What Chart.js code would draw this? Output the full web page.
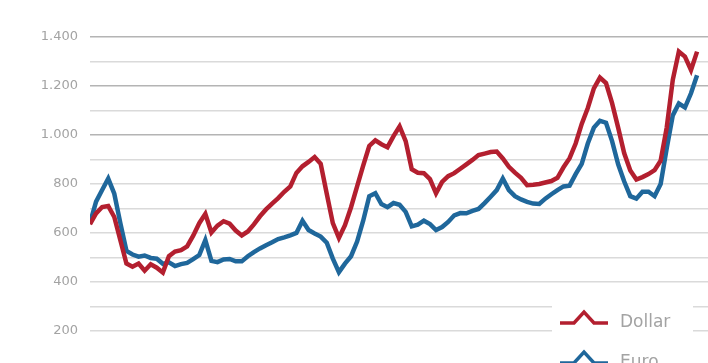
<!DOCTYPE html>
<html>
<head>
<meta charset="utf-8">
<script src="https://cdn.jsdelivr.net/npm/chart.js@4/dist/chart.umd.min.js"></script>
<style>
  html, body { margin: 0; padding: 0; background: #fff; }
  #wrap { width: 708px; height: 363px; }
</style>
</head>
<body>
<div id="wrap"><canvas id="myChart" width="708" height="363"></canvas></div>
<script>
// series values (one point per period)
const dollar = [
    636, 680, 706, 710, 665, 570, 475, 462, 475, 446,
    472, 458, 438, 505, 524, 530, 545, 589, 640, 678,
    602, 630, 648, 638, 610, 590, 606, 635, 668, 696,
    720, 742, 768, 790, 845, 872, 890, 910, 882, 760,
    640, 580, 632, 705, 790, 875, 955, 978, 962, 950,
    995, 1035, 975, 860, 846, 844, 820, 762, 808, 832,
    844, 862, 880, 898, 918, 924, 930, 932, 904, 870,
    846, 825, 795, 797, 800, 806, 812, 825, 868, 905,
    965, 1045, 1110, 1190, 1234, 1212, 1130, 1030, 925, 855,
    818, 828, 840, 856, 895, 1030, 1225, 1340, 1320, 1265,
    1340
];
const euro = [
    640, 728, 775, 822, 760, 640, 527, 512, 503, 508,
    498, 495, 474, 480, 465, 473, 478, 493, 510, 571,
    486, 481, 492, 494, 484, 484, 505, 522, 537, 550,
    562, 575, 582, 590, 600, 650, 612, 598, 585, 560,
    495, 440, 475, 505, 565, 650, 750, 762, 718, 705,
    722, 715, 686, 627, 634, 650, 636, 612, 624, 645,
    672, 681, 680, 690, 698, 722, 748, 775, 822, 775,
    750, 737, 727, 720, 718, 740, 758, 775, 790, 793,
    840, 882, 965, 1030, 1058, 1050, 975, 880, 810, 750,
    740, 768, 768, 750, 800, 945, 1080, 1128, 1112, 1170,
    1244
];
const seriesNames = ['Dollar', 'Euro'];
const seriesColors = ['#b31f2f', '#1f679b'];
const yTicks = [200, 300, 400, 500, 600, 700, 800, 900, 1000, 1100, 1200, 1300, 1400];

function toPoints(arr) {
    return arr.map((v, i) => ({ x: i, y: v }));
}

function fmt(v) {
    return String(v).replace(/\B(?=(\d{3})+(?!\d))/g, '.');
}

// little "peak" line icon used in the legend
function drawPeak(ctx, x, y, color) {
    ctx.save();
    ctx.strokeStyle = color;
    ctx.lineWidth = 3.5;
    ctx.lineJoin = 'miter';
    ctx.beginPath();
    ctx.moveTo(x, y);
    ctx.lineTo(x + 14, y);
    ctx.lineTo(x + 24, y - 11);
    ctx.lineTo(x + 34, y);
    ctx.lineTo(x + 48, y);
    ctx.stroke();
    ctx.restore();
}

const legendBox = {
    id: 'legendBox',
    afterDatasetsDraw(chart) {
        const ctx = chart.ctx;
        ctx.save();
        ctx.fillStyle = '#fff';
        ctx.fillRect(552, 300, 141, 63);
        ctx.font = '17px "DejaVu Sans"';
        ctx.fillStyle = '#a3a3a3';
        ctx.textBaseline = 'alphabetic';
        seriesNames.forEach((name, i) => {
            const y = 323 + i * 40;
            drawPeak(ctx, 560, y, seriesColors[i]);
            ctx.fillText(name, 620, y + 4);
        });
        ctx.restore();
    }
};

const config = {
    type: 'line',
    data: {
        datasets: [{
            label: seriesNames[0],
            data: toPoints(dollar),
            borderColor: seriesColors[0],
            borderWidth: 4.5,
            pointRadius: 0,
            tension: 0,
            fill: false
        }, {
            label: seriesNames[1],
            data: toPoints(euro),
            borderColor: seriesColors[1],
            borderWidth: 4.5,
            pointRadius: 0,
            tension: 0,
            fill: false
        }]
    },
    options: {
        responsive: false,
        animation: false,
        devicePixelRatio: 1,
        layout: { padding: 0 },
        plugins: {
            legend: { display: false },
            tooltip: { enabled: false }
        },
        scales: {
            x: {
                type: 'linear',
                min: 0,
                max: 101.8,
                display: false
            },
            y: {
                min: 150,
                max: 1470,
                afterBuildTicks: (scale) => {
                    scale.ticks = yTicks.map(v => ({ value: v }));
                },
                afterFit: (scale) => {
                    scale.width = 90;
                },
                border: { display: false },
                grid: {
                    drawTicks: false,
                    lineWidth: 1.5,
                    color: (c) => (c.tick && c.tick.value % 200 === 0 && c.tick.value >= 1000) ? '#b4b4b4' : '#dadada'
                },
                ticks: {
                    padding: 12,
                    color: '#a3a3a3',
                    font: { family: '"DejaVu Sans"', size: 13 },
                    callback: (v) => v % 200 === 0 ? fmt(v) : ''
                }
            }
        }
    },
    plugins: [legendBox]
};

var myChart = new Chart(document.getElementById('myChart'), config);
</script>
</body>
</html>
